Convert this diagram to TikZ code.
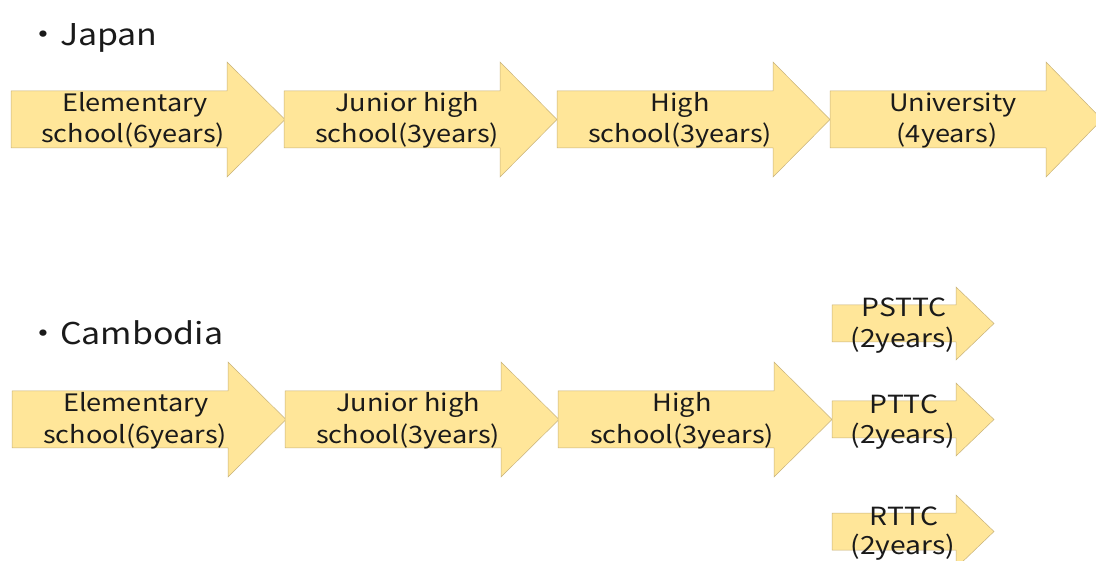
\documentclass[tikz,border=0pt]{standalone}
\usepackage{fontspec}
\setmainfont{Noto Sans CJK JP}[FakeStretch=1.13]
\definecolor{arrfill}{HTML}{FFE699}
\definecolor{arrline}{HTML}{C8B27A}
\definecolor{txt}{HTML}{1A1A1A}
\newcommand\myarrow[6]{%
  \fill[arrfill,draw=arrline,line width=0.5pt,line join=miter]
    (#1,#4-#5) -- (#2,#4-#5) -- (#2,#4-#6) -- (#3,#4) -- (#2,#4+#6) -- (#2,#4+#5) -- (#1,#4+#5) -- cycle;}
\begin{document}
\begin{tikzpicture}[x=1pt,y=-1pt,
  lbl/.style={text=txt,font=\fontsize{24}{24}\selectfont,inner sep=0pt,anchor=center},
  slbl/.style={text=txt,font=\fontsize{25}{25}\selectfont,inner sep=0pt,anchor=center},
  ttl/.style={text=txt,font=\fontsize{30}{30}\selectfont,inner sep=0pt,anchor=west}]
\useasboundingbox (0,0) rectangle (1096,561);
% Japan row
\myarrow{11}{227}{285}{119.5}{28.5}{57.5}
\myarrow{284}{500}{557}{119.5}{28.5}{57.5}
\myarrow{557}{773}{830}{119.5}{28.5}{57.5}
\myarrow{830}{1046}{1102}{119.5}{28.5}{57.5}
% Cambodia row
\myarrow{12}{228}{286}{419.5}{28.5}{57.5}
\myarrow{285}{501}{559}{419.5}{28.5}{57.5}
\myarrow{558}{774}{832}{419.5}{28.5}{57.5}
% small arrows
\myarrow{832}{956}{994}{323.5}{18.5}{36.5}
\myarrow{832}{956}{994}{419.5}{18.5}{36.5}
\myarrow{832}{956}{994}{531.5}{18.5}{36.5}
% titles
\node[ttl] (tj) at (26,38) {・Japan};
\node[ttl] (tc) at (26,333) {・Cambodia};
% Japan labels
\node[lbl] (j1a) at (135,105) {Elementary};
\node[lbl] (j1b) at (133,135) {school(6years)};
\node[lbl] (j2a) at (407,105) {Junior high};
\node[lbl] (j2b) at (407,135) {school(3years)};
\node[lbl] (j3a) at (680,105) {High};
\node[lbl] (j3b) at (680,135) {school(3years)};
\node[lbl] (j4a) at (953,105) {University};
\node[lbl] (j4b) at (947,135) {(4years)};
% Cambodia labels
\node[lbl] (c1a) at (136,405) {Elementary};
\node[lbl] (c1b) at (135,436) {school(6years)};
\node[lbl] (c2a) at (408,405) {Junior high};
\node[lbl] (c2b) at (408,436) {school(3years)};
\node[lbl] (c3a) at (682,405) {High};
\node[lbl] (c3b) at (682,436) {school(3years)};
\node[slbl] (s1a) at (904,307) {PSTTC};
\node[slbl] (s1b) at (903,340) {(2years)};
\node[slbl] (s2a) at (904,404) {PTTC};
\node[slbl] (s2b) at (903,436) {(2years)};
\node[slbl] (s3a) at (904,516) {RTTC};
\node[slbl] (s3b) at (903,547) {(2years)};
\end{tikzpicture}
\end{document}
